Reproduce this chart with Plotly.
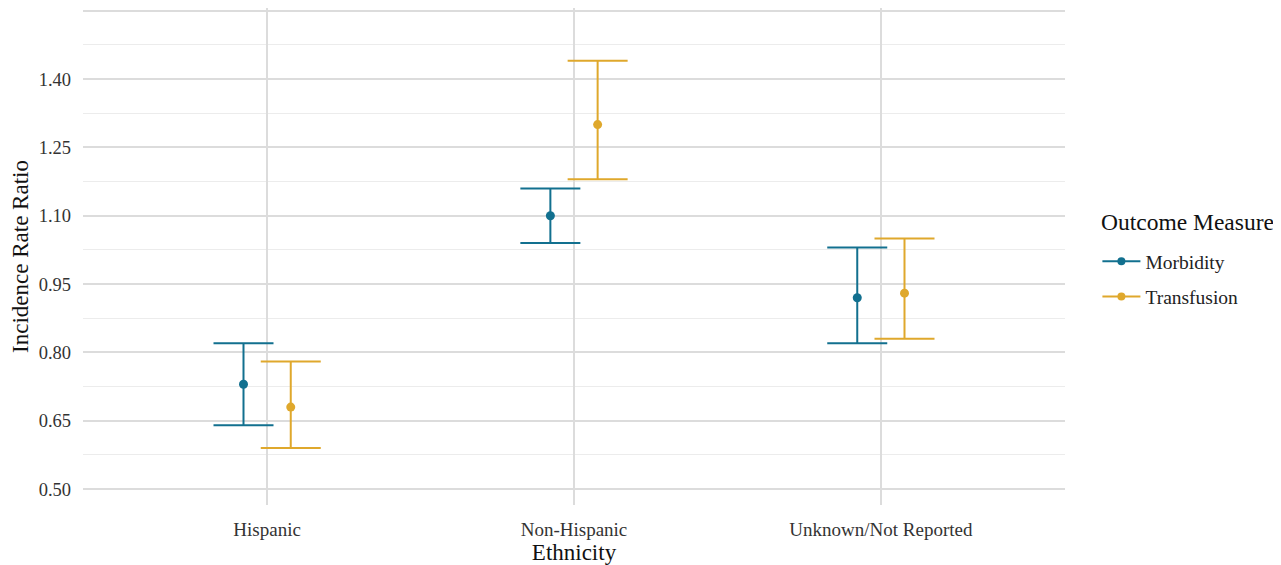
import plotly.graph_objects as go

categories = ["Hispanic", "Non-Hispanic", "Unknown/Not Reported"]
series = ["Morbidity", "Transfusion"]
irr = {"Morbidity": [0.73, 1.10, 0.92], "Transfusion": [0.68, 1.30, 0.93]}
lower = {"Morbidity": [0.64, 1.04, 0.82], "Transfusion": [0.59, 1.18, 0.83]}
upper = {"Morbidity": [0.82, 1.16, 1.03], "Transfusion": [0.78, 1.44, 1.05]}
y_ticks = [0.50, 0.65, 0.80, 0.95, 1.10, 1.25, 1.40]
colors = {"Morbidity": "#12708f", "Transfusion": "#dfa82c"}
dodge = {"Morbidity": -0.077, "Transfusion": 0.077}

FONT = "Liberation Serif, Times New Roman, serif"

# page body has an 8px default margin: size the figure so the panel lands where the reference's does
W, H = 1273, 557
L, R, T, B = 75, 216, 0, 60

fig = go.Figure()
for s in series:
    xs = [i + dodge[s] for i in range(len(categories))]
    fig.add_trace(go.Scatter(
        x=xs, y=irr[s], mode="markers", name=s, legendgroup=s,
        marker=dict(color=colors[s], size=9),
        error_y=dict(type="data", symmetric=False,
                     array=[u - v for u, v in zip(upper[s], irr[s])],
                     arrayminus=[v - l for v, l in zip(irr[s], lower[s])],
                     color=colors[s], thickness=2, width=30),
        showlegend=False,
    ))
    # legend entry
    fig.add_trace(go.Scatter(
        x=[None], y=[None], mode="lines+markers", name=s, legendgroup=s,
        line=dict(color=colors[s], width=2),
        marker=dict(color=colors[s], size=8),
    ))

plot_h = H - T - B
plot_w = W - L - R
fig.update_layout(
    width=W, height=H,
    margin=dict(l=L, r=R, t=T, b=B, autoexpand=False),
    plot_bgcolor="white", paper_bgcolor="white",
    font=dict(family=FONT, color="#222222"),
    legend=dict(
        x=1.033, xanchor="left", y=(505 - 242) / plot_h, yanchor="top",
        font=dict(size=19.5, color="#222222"),
        tracegroupgap=7, itemwidth=38,
    ),
    annotations=[dict(
        text="Outcome Measure", xref="paper", yref="paper",
        x=(1099 - 8 - L) / plot_w, xanchor="left",
        y=(505 - 222) / plot_h, yanchor="middle",
        showarrow=False, font=dict(size=23.5, color="#111111"),
    )],
)
fig.update_xaxes(
    range=[-0.6, 2.6], tickmode="array",
    tickvals=list(range(len(categories))), ticktext=categories,
    showgrid=True, gridcolor="#dcdcdc", gridwidth=2,
    zeroline=False, showline=False, ticks="", automargin=False,
    tickfont=dict(size=19, color="#333333"), ticklabelstandoff=11,
    title=dict(text="Ethnicity", font=dict(size=23, color="#111111"), standoff=3),
)
fig.update_yaxes(
    range=[0.465, 1.556], tickmode="array",
    tickvals=y_ticks + [1.55], ticktext=[f"{v:.2f}" for v in y_ticks] + [""],
    showgrid=True, gridcolor="#dcdcdc", gridwidth=2,
    zeroline=False, showline=False, ticks="", automargin=False,
    tickfont=dict(size=18.5, color="#333333"), ticklabelstandoff=11,
    minor=dict(tickmode="array", tickvals=[0.575 + 0.15 * k for k in range(7)],
               showgrid=True, gridcolor="#ececec", gridwidth=1),
    title=dict(text="Incidence Rate Ratio", font=dict(size=23, color="#111111"), standoff=4),
)

fig.write_html("out.html")
